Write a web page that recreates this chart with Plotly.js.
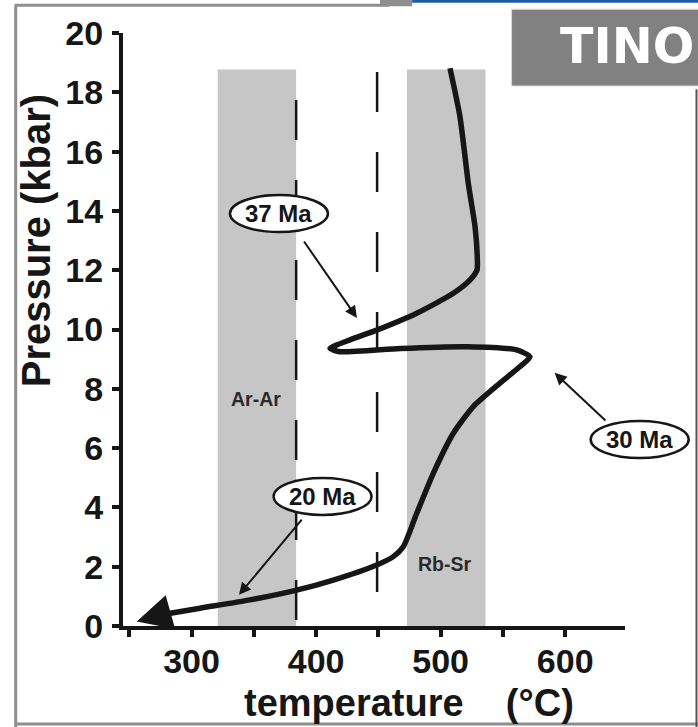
<!DOCTYPE html>
<html><head><meta charset="utf-8">
<script src="https://cdn.plot.ly/plotly-3.0.1.min.js"></script>
<style>html,body{margin:0;padding:0;background:#fff;}#chart{width:698px;height:727px;}</style>
</head><body><div id="chart"></div>
<script>
// P-T path (temperature in °C, pressure in kbar)
const pathTemp = [507.5,515.5,522.2,527.6,529.4,529.2,523.6,510.2,480.8,448.7,427.2,411.2,419.2,467.4,520.9,561.0,571.7,563.7,547.6,526.2,510.2,494.1,480.8,470.0,462.0,448.7,413.8,384.4,347.0,306.8,274.7,256.0];
const pathPressure = [18.81,17.18,14.93,13.47,12.46,12.01,11.67,11.22,10.55,9.98,9.65,9.36,9.25,9.36,9.42,9.31,9.08,8.75,8.19,7.40,6.50,5.15,3.80,2.67,2.34,2.06,1.55,1.21,0.88,0.60,0.37,0.15];

// closure-temperature bands
const bandNames = ['Ar-Ar','Rb-Sr'];
const bandTmin = [321, 473];
const bandTmax = [384, 536];
const bandPtop = [18.77, 18.77];
const bandLabelTemp = [352, 503];
const bandLabelPressure = [7.66, 2.09];

// dashed isotherms
const isothermTemp = [384, 449];
const isothermPbottom = [0.2, 1.15];
const isothermPtop = [17.84, 19.53];

// age labels and the path points they point to
const ageLabels = ['37 Ma','30 Ma','20 Ma'];
const ageLabelTemp = [370.2, 659.8, 405.2];
const ageLabelPressure = [13.91, 6.29, 4.37];
const ageTailTemp = [389.5, 633.5, 389.5];
const ageTailPressure = [13.02, 6.88, 3.64];
const ageTipTemp = [432.8, 591.5, 338.1];
const ageTipPressure = [10.39, 8.54, 1.05];

// axes
const xRange = [245, 648];
const yRange = [0, 20];
const xTickVals = [250,300,350,400,450,500,550,600];
const xTickText = ['','300','','400','','500','','600'];
const yTickVals = [0,2,4,6,8,10,12,14,16,18,20];
const yTickText = ['0','2','4','6','8','10','12','14','16','18','20'];

const FONT = 'Liberation Sans, Arial, Helvetica, sans-serif';
const INK = '#161616';
const n = pathTemp.length;

function px(t){ return (t - xRange[0])/(xRange[1]-xRange[0]); }
function py(p){ return (p - yRange[0])/(yRange[1]-yRange[0]); }

const traces = [{
  type:'scatter', mode:'lines',
  x: pathTemp.slice(0, n-1), y: pathPressure.slice(0, n-1),
  line:{color:INK, width:5.5, shape:'spline', smoothing:0.6},
  hoverinfo:'skip', showlegend:false
}];

const shapes = [];
// frame around the figure
shapes.push({type:'line', xref:'paper', yref:'paper', x0:-0.2137, x1:-0.2137, y0:1.045, y1:-0.175, line:{color:'#8e8e8e', width:3}});
shapes.push({type:'line', xref:'paper', yref:'paper', x0:-0.216, x1:1.16, y0:-0.1653, y1:-0.1653, line:{color:'#8e8e8e', width:3}});
shapes.push({type:'line', xref:'paper', yref:'paper', x0:-0.216, x1:0.53, y0:1.047, y1:1.047, line:{color:'#8e8e8e', width:3}});
shapes.push({type:'rect', xref:'paper', yref:'paper', x0:0.512, x1:0.576, y0:1.045, y1:1.06, line:{width:0}, fillcolor:'#8e8e8e'});
shapes.push({type:'rect', xref:'paper', yref:'paper', x0:0.576, x1:1.16, y0:1.051, y1:1.06, line:{width:0}, fillcolor:'#1f5ca8'});
shapes.push({type:'line', xref:'paper', yref:'paper', x0:1.1424, x1:1.1424, y0:0.905, y1:-0.175, line:{color:'#555', width:2}});
// TINO box
shapes.push({type:'rect', xref:'paper', yref:'paper', x0:0.774, x1:1.16, y0:0.9106, y1:1.04, line:{color:'#d8d8d8', width:1}, fillcolor:'#818181'});

// bands
for (let i=0;i<bandNames.length;i++){
  shapes.push({type:'rect', xref:'x', yref:'y', layer:'below', x0:bandTmin[i], x1:bandTmax[i], y0:0, y1:bandPtop[i], line:{width:0}, fillcolor:'#c6c6c6'});
}
// isotherms
for (let i=0;i<isothermTemp.length;i++){
  shapes.push({type:'line', xref:'x', yref:'y', layer:'below', x0:isothermTemp[i], x1:isothermTemp[i], y0:isothermPbottom[i], y1:isothermPtop[i], line:{color:INK, width:2.5, dash:'40px,40px'}});
}
// ellipses for age labels
for (let i=0;i<ageLabels.length;i++){
  shapes.push({type:'circle', xref:'paper', yref:'paper', xsizemode:'pixel', ysizemode:'pixel',
    xanchor:px(ageLabelTemp[i]), yanchor:py(ageLabelPressure[i]), x0:-49, x1:49, y0:-18.5, y1:18.5,
    line:{color:INK, width:2.5}, fillcolor:'#fff'});
}

const annotations = [];
for (let i=0;i<ageLabels.length;i++){
  annotations.push({xref:'x', yref:'y', x:ageTipTemp[i], y:ageTipPressure[i], axref:'x', ayref:'y', ax:ageTailTemp[i], ay:ageTailPressure[i],
    text:'', showarrow:true, arrowhead:2, arrowsize:1.2, arrowwidth:2, arrowcolor:INK, standoff:0});
  annotations.push({xref:'paper', yref:'paper', x:px(ageLabelTemp[i]), y:py(ageLabelPressure[i]), text:ageLabels[i], showarrow:false,
    xanchor:'center', yanchor:'middle', font:{family:FONT, size:24, color:INK, weight:'bold'}});
}
for (let i=0;i<bandNames.length;i++){
  annotations.push({xref:'x', yref:'y', x:bandLabelTemp[i], y:bandLabelPressure[i], text:bandNames[i], showarrow:false,
    xanchor:'center', yanchor:'middle', font:{family:FONT, size:19.5, color:'#2a2a2a', weight:'bold'}});
}
// arrow head at the end of the path
annotations.push({xref:'x', yref:'y', x:pathTemp[n-1], y:pathPressure[n-1], axref:'x', ayref:'y', ax:pathTemp[n-2], ay:pathPressure[n-2],
  text:'', showarrow:true, arrowhead:2, arrowsize:1.4, arrowwidth:5, arrowcolor:INK, standoff:0});
// axis titles
annotations.push({xref:'paper', yref:'paper', x:-0.173, y:0.649, text:'Pressure (kbar)', textangle:-90, showarrow:false,
  xanchor:'center', yanchor:'middle', font:{family:FONT, size:40, color:INK, weight:'bold'}});
annotations.push({xref:'paper', yref:'paper', x:0.57, y:-0.13, text:'temperature    (°C)', showarrow:false,
  xanchor:'center', yanchor:'middle', font:{family:FONT, size:38, color:INK, weight:'bold'}});
// TINO
annotations.push({xref:'paper', yref:'paper', x:0.866, y:0.977, text:'TINO', showarrow:false,
  xanchor:'left', yanchor:'middle', font:{family:'DejaVu Sans, sans-serif', size:49, color:'#ffffff', weight:'bold'}});

const axisCommon = {showgrid:false, zeroline:false, showline:true, linecolor:INK, linewidth:4,
  ticks:'outside', ticklen:7, tickwidth:4, tickcolor:INK, fixedrange:true,
  tickfont:{family:FONT, size:34, color:INK, weight:'bold'}};

const layout = {
  width:698, height:727,
  margin:{l:123, r:73, t:33, b:101},
  paper_bgcolor:'#fff', plot_bgcolor:'rgba(0,0,0,0)',
  showlegend:false,
  xaxis:Object.assign({}, axisCommon, {range:xRange, tickmode:'array', tickvals:xTickVals, ticktext:xTickText, ticklabelstandoff:-5}),
  yaxis:Object.assign({}, axisCommon, {range:yRange, tickmode:'array', tickvals:yTickVals, ticktext:yTickText, ticklabelstandoff:2}),
  shapes:shapes, annotations:annotations
};

Plotly.newPlot('chart', traces, layout, {displayModeBar:false, staticPlot:true});
</script>
</body></html>
